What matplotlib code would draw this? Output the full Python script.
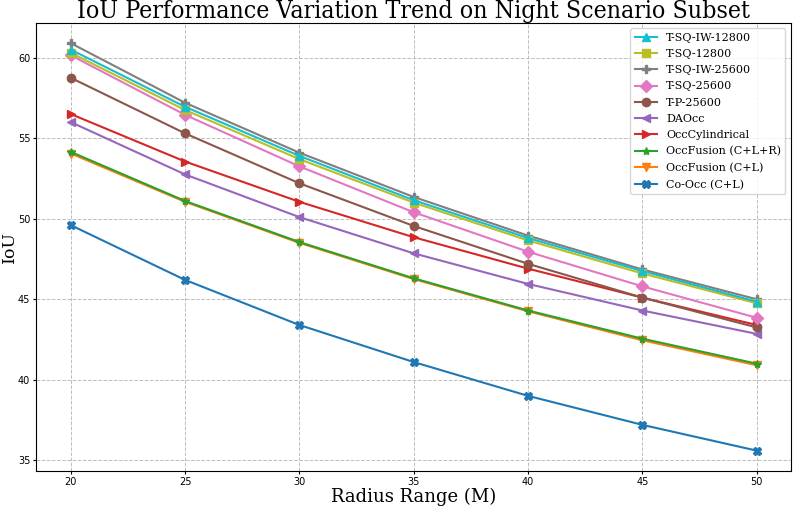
import numpy as np
import matplotlib
matplotlib.use("Agg")
from matplotlib import pyplot as plt

radius = [20, 25, 30, 35, 40, 45, 50]

co_occ = [49.6, 46.2, 43.4, 41.1, 39.0, 37.2, 35.6]
occfusion_cl = [54.05, 51.05, 48.5, 46.25, 44.25, 42.45, 40.9]
occfusion_clr = [54.15, 51.1, 48.55, 46.3, 44.3, 42.55, 41.0]
occcylindrical = [56.5, 53.55, 51.05, 48.85, 46.9, 45.1, 43.4]
daocc = [56.0, 52.75, 50.1, 47.85, 45.95, 44.3, 42.85]
tp_25600 = [58.75, 55.3, 52.2, 49.55, 47.2, 45.1, 43.25]
tsq_25600 = [60.15, 56.45, 53.25, 50.4, 47.95, 45.8, 43.85]
tsq_iw_25600 = [60.9, 57.2, 54.1, 51.35, 48.95, 46.85, 45.0]
tsq_12800 = [60.3, 56.75, 53.7, 51.0, 48.65, 46.6, 44.75]
tsq_iw_12800 = [60.5, 56.95, 53.9, 51.15, 48.8, 46.75, 44.85]

labels = ['Co-Occ (C+L)', 'OccFusion (C+L)', 'OccFusion (C+L+R)', 'OccCylindrical',
          'DAOcc', 'T-P-25600', 'T-SQ-25600', 'T-SQ-IW-25600', 'T-SQ-12800', 'T-SQ-IW-12800']
series = [co_occ, occfusion_cl, occfusion_clr, occcylindrical, daocc,
          tp_25600, tsq_25600, tsq_iw_25600, tsq_12800, tsq_iw_12800]
markers = ['X', 'v', '*', '>', '<', 'o', 'D', 'P', 's', '^']

fig = plt.figure(figsize=[7.93, 5.07], dpi=100)
ax = fig.add_axes([0.046, 0.071, 0.9515, 0.884])

for i, (lab, vals) in enumerate(zip(labels, series)):
    ax.plot(radius, vals, marker=markers[i], color='C%d' % i, label=lab,
            linewidth=1.5, markersize=6)

ax.grid(True, linestyle='--', color='#bdbdbd', linewidth=0.7)
ax.tick_params(labelsize=7, length=2.5, pad=2)
ax.set_xticks(radius)
ax.set_xlabel('Radius Range (M)', fontsize=13, family='DejaVu Serif', labelpad=0)
ax.set_ylabel('IoU', fontsize=12.5, family='DejaVu Serif', labelpad=0)
ax.set_title('IoU Performance Variation Trend on Night Scenario Subset', fontsize=17.8,
             family='DejaVu Serif', fontstretch='condensed', pad=2)

h, l = ax.get_legend_handles_labels()
ax.legend(h[::-1], l[::-1], loc='upper right', labelspacing=0.56,
          prop={'family': 'DejaVu Serif', 'size': 8})

plt.savefig('out.png', dpi=100)
